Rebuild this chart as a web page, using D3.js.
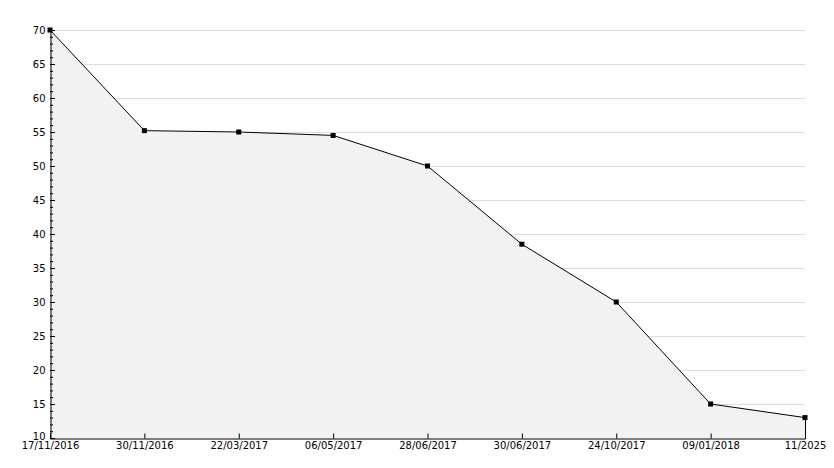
<!DOCTYPE html><html><head><meta charset="utf-8"><script src="https://cdn.jsdelivr.net/npm/d3@7"></script>
<style>body{margin:0;background:#fff}text{font-family:"DejaVu Sans",sans-serif;font-size:10px;fill:#000}</style></head><body><svg width="834" height="468"></svg><script>
const categories=["17/11/2016","30/11/2016","22/03/2017","06/05/2017","28/06/2017","30/06/2017","24/10/2017","09/01/2018","11/2025"];
const values=[70,55.2,55,54.5,50,38.5,30,15,13];
const yTicks=[10,15,20,25,30,35,40,45,50,55,60,65,70];
const svg=d3.select("svg");
const L=50,R=805,T=30,B=438;
const x=d3.scalePoint().domain(categories).range([L,R]);
const y=d3.scaleLinear().domain([10,70]).range([B,T]);
const g=svg.append("g");
g.selectAll(".gr").data(yTicks.slice(1)).join("line").attr("x1",L).attr("x2",R).attr("y1",d=>y(d)+.5).attr("y2",d=>y(d)+.5).attr("stroke","#ddd");
const data=categories.map((c,i)=>({c,v:values[i]}));
g.append("path").attr("d",d3.area().x(d=>x(d.c)).y0(B).y1(d=>y(d.v))(data)).attr("fill","#f2f2f2");
g.append("line").attr("x1",R+.5).attr("x2",R+.5).attr("y1",y(values[values.length-1])).attr("y2",B).attr("stroke","#000");
g.append("path").attr("d",d3.line().x(d=>x(d.c)).y(d=>y(d.v))(data)).attr("fill","none").attr("stroke","#000");
g.selectAll(".pt").data(data).join("rect").attr("x",d=>x(d.c)-2.5).attr("y",d=>y(d.v)-2.5).attr("width",5).attr("height",5).attr("fill","#000");
g.selectAll(".mt").data(d3.range(10,71)).join("line").attr("x1",L).attr("x2",d=>d%5?L+3:L+5).attr("y1",d=>y(d)+.5).attr("y2",d=>y(d)+.5).attr("stroke","#000");
const ya=d3.axisLeft(y).tickValues(yTicks).tickSize(0).tickPadding(5);
svg.append("g").attr("transform",`translate(${L+.5},0)`).call(ya).call(a=>a.select(".domain").attr("stroke","#000")).selectAll("text").style("font-size","10px").style("font-family","DejaVu Sans").attr("dy",d=>d===10?"0.1em":"0.32em");
const xa=d3.axisBottom(x).tickSize(-5).tickPadding(4);
svg.append("g").attr("transform",`translate(0,${B+.5})`).call(xa).call(a=>a.select(".domain").attr("stroke","#000")).selectAll("text").style("font-size","10px").style("font-family","DejaVu Sans").attr("dy","0.6em");
</script></body></html>
